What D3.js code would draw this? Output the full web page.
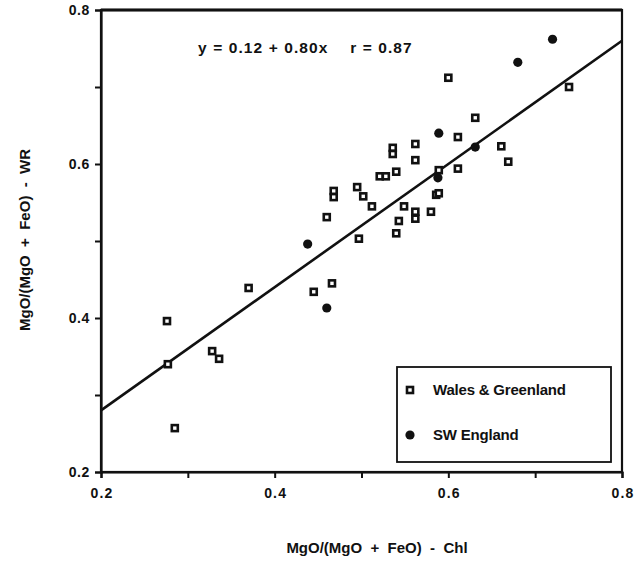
<!DOCTYPE html>
<html><head><meta charset="utf-8">
<script src="https://cdn.jsdelivr.net/npm/d3@7"></script>
<style>
body{margin:0;background:#fff;}
text{font-family:"Liberation Sans",Arial,Helvetica,sans-serif;font-weight:bold;fill:#111;}
</style></head>
<body><svg id="c" width="642" height="579"></svg>
<script>
// Wales & Greenland (open squares)
const walesX = [0.276,0.277,0.285,0.328,0.336,0.370,0.445,0.466,0.460,0.468,0.468,0.495,0.502,0.497,0.512,0.521,0.528,0.536,0.536,0.540,0.540,0.543,0.549,0.562,0.562,0.562,0.562,0.580,0.586,0.589,0.589,0.600,0.611,0.611,0.631,0.661,0.669,0.739];
const walesY = [0.396,0.340,0.257,0.357,0.347,0.439,0.434,0.445,0.531,0.565,0.557,0.570,0.558,0.503,0.545,0.584,0.584,0.621,0.613,0.590,0.510,0.526,0.545,0.626,0.605,0.538,0.529,0.538,0.560,0.562,0.592,0.712,0.635,0.594,0.660,0.623,0.603,0.700];
// SW England (filled circles)
const swX = [0.438,0.460,0.588,0.589,0.631,0.680,0.720];
const swY = [0.496,0.413,0.582,0.640,0.622,0.732,0.762];
const xTicks = [0.2,0.3,0.4,0.5,0.6,0.7,0.8];
const yTicks = [0.2,0.3,0.4,0.5,0.6,0.7,0.8];
const tickLabels = [0.2,0.4,0.6,0.8];
const intercept = 0.12, slope = 0.80;
const seriesNames = ["Wales & Greenland","SW England"];
const equation = "y = 0.12 + 0.80x    r = 0.87";

const svg = d3.select("#c");
const L=101,R=622,T=10,B=472;
const x = d3.scaleLinear().domain([0.2,0.8]).range([L,R]);
const y = d3.scaleLinear().domain([0.2,0.8]).range([B,T]);

// frame
svg.append("rect").attr("x",L).attr("y",T).attr("width",R-L).attr("height",B-T)
  .attr("fill","none").attr("stroke","#111").attr("stroke-width",2.2);
svg.append("line").attr("x1",L).attr("x2",R).attr("y1",T).attr("y2",T).attr("stroke","#111").attr("stroke-width",2.8);

// axes
const xa = svg.append("g").attr("transform",`translate(0,${B})`)
  .call(d3.axisBottom(x).tickValues(xTicks).tickSize(6).tickFormat(""));
const ya = svg.append("g").attr("transform",`translate(${L},0)`)
  .call(d3.axisLeft(y).tickValues(yTicks).tickSize(6).tickFormat(""));
[xa,ya].forEach(g=>{g.select(".domain").attr("stroke","#111").attr("stroke-width",2.2);
  g.selectAll(".tick line").attr("stroke","#111").attr("stroke-width",2);});

svg.selectAll(".xl").data(tickLabels).enter().append("text")
  .attr("x",d=>x(d)+1).attr("y",B+26).attr("text-anchor","middle").attr("font-size",14).attr("letter-spacing",1.2).text(d=>d.toFixed(1));
svg.selectAll(".yl").data(tickLabels).enter().append("text")
  .attr("x",L-11).attr("y",d=>y(d)+5).attr("text-anchor","end").attr("font-size",14).attr("letter-spacing",0.6).text(d=>d.toFixed(1));

// regression line
svg.append("line").attr("x1",x(0.2)).attr("y1",y(intercept+slope*0.2))
  .attr("x2",x(0.8)).attr("y2",y(intercept+slope*0.8)).attr("stroke","#111").attr("stroke-width",2.6);

// squares
const sq = 6;
svg.selectAll(".sq").data(walesX.map((v,i)=>[v,walesY[i]])).enter().append("rect")
  .attr("x",d=>x(d[0])-sq/2).attr("y",d=>y(d[1])-sq/2).attr("width",sq).attr("height",sq)
  .attr("fill","#fff").attr("stroke","#111").attr("stroke-width",2.6);
// circles
svg.selectAll(".ci").data(swX.map((v,i)=>[v,swY[i]])).enter().append("circle")
  .attr("cx",d=>x(d[0])).attr("cy",d=>y(d[1])).attr("r",4.6).attr("fill","#111");

// equation
svg.append("text").attr("x",198).attr("y",53).attr("font-size",15.5).attr("letter-spacing",1.1).attr("xml:space","preserve").style("white-space","pre").text(equation);

// legend
svg.append("rect").attr("x",397).attr("y",367).attr("width",214).attr("height",95)
  .attr("fill","#fff").attr("stroke","#111").attr("stroke-width",1.8);
svg.append("rect").attr("x",410-sq/2).attr("y",390-sq/2).attr("width",sq).attr("height",sq)
  .attr("fill","#fff").attr("stroke","#111").attr("stroke-width",2.6);
svg.append("circle").attr("cx",410).attr("cy",435).attr("r",4.6).attr("fill","#111");
svg.append("text").attr("x",433).attr("y",395).attr("font-size",15).attr("letter-spacing",-0.2).text(seriesNames[0]);
svg.append("text").attr("x",433).attr("y",440).attr("font-size",15).attr("letter-spacing",-0.2).text(seriesNames[1]);

// axis titles
svg.append("text").attr("x",377).attr("y",553).attr("text-anchor","middle").attr("font-size",15).attr("xml:space","preserve").style("white-space","pre").text("MgO/(MgO  +  FeO)  -  Chl");
svg.append("text").attr("transform","translate(30,240) rotate(-90)").attr("text-anchor","middle").attr("font-size",15).attr("xml:space","preserve").style("white-space","pre").text("MgO/(MgO  +  FeO)  -  WR");
</script></body></html>
